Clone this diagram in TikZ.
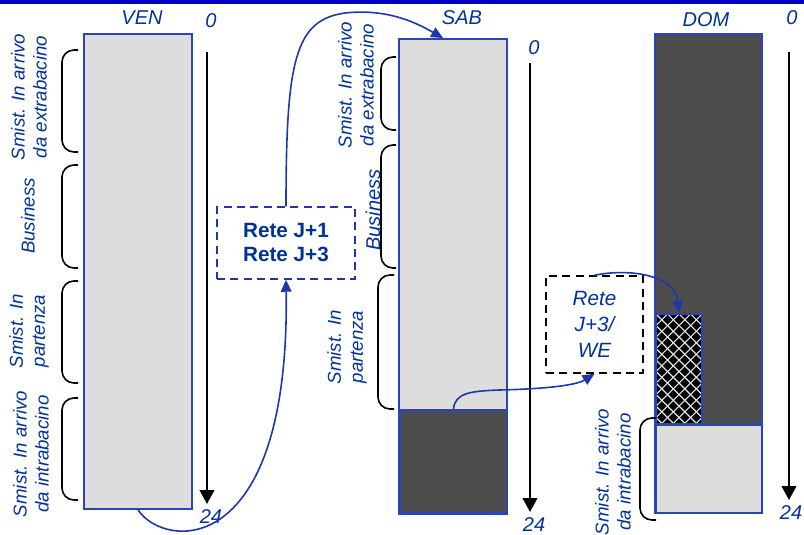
\documentclass[tikz,border=0pt]{standalone}
\usepackage{fontspec}
\setmainfont{Liberation Sans}
\usetikzlibrary{arrows.meta,fit,calc}
\definecolor{txtblue}{RGB}{0,51,153}
\definecolor{barblue}{RGB}{40,70,180}
\definecolor{topblue}{RGB}{0,0,204}
\definecolor{curveblue}{RGB}{30,55,170}
\definecolor{lightfill}{RGB}{221,221,221}
\definecolor{darkfill}{RGB}{77,77,77}
\begin{document}
\begin{tikzpicture}[x=0.75pt,y=-0.75pt,
  bar/.style={inner sep=0pt, draw=barblue, line width=1.4pt},
  lbl/.style={text=txtblue, font=\fontsize{15}{18}\selectfont\itshape, inner sep=0pt},
  side/.style={text=txtblue, font=\fontsize{14}{16.5}\selectfont\itshape, rotate=90, align=center, inner sep=0pt},
  axisline/.style={line width=1.5pt, -{Triangle[width=11pt,length=10.5pt]}},
  brk/.style={draw=black, line width=1.2pt, rounded corners=9pt},
  conn/.style={draw=curveblue, line width=1.2pt, -{Triangle[width=8pt,length=9pt]}},
  dashbox/.style={line width=1.1pt, dash pattern=on 6pt off 4pt, inner sep=0pt, align=center, text=txtblue},
]
\useasboundingbox (0,0) rectangle (804,535);
\fill[topblue] (0,0) rectangle (804,4);

% ---------- VEN ----------
\node[bar, fill=lightfill, fit={(84,34) (192,509)}] (ven) {};
\node[lbl] (venlbl) at (142,18) {VEN};
\node[lbl] (v0) at (211,21) {0};
\node[lbl] (v24) at (211,517) {24};
\coordinate (vtop) at (207,52);
\coordinate (vtip) at (207,504);
\draw[axisline] (vtop) -- (vtip);
\draw[brk] (78,50) -- (62,50) -- (62,152) -- (78,152);
\draw[brk] (78,165) -- (62,165) -- (62,268) -- (78,268);
\draw[brk] (78,281) -- (62,281) -- (62,383) -- (78,383);
\draw[brk] (78,398) -- (62,398) -- (62,500) -- (78,500);
\node[side] (vs1) at (29,97) {Smist. In arrivo\\da extrabacino};
\node[side] (vs2) at (28,216) {Business};
\node[side] (vs3) at (29,331) {Smist. In\\partenza};
\node[side] (vs4) at (31,454) {Smist. In arrivo\\da intrabacino};

% ---------- SAB ----------
\node[bar, fill=lightfill, fit={(399,39) (507,514)}] (sab) {};
\node[bar, fill=darkfill, fit={(400,410) (507,513)}] (sabdark) {};
\node[lbl] (sablbl) at (462,18) {SAB};
\node[lbl] (s0) at (534,48) {0};
\node[lbl] (s24) at (534,525) {24};
\coordinate (stop) at (530,63);
\coordinate (stip) at (530,512);
\draw[axisline] (stop) -- (stip);
\draw[brk] (396,57) -- (381,57) -- (381,130) -- (396,130);
\draw[brk] (396,145) -- (381,145) -- (381,268) -- (396,268);
\draw[brk] (394,275) -- (378,275) -- (378,409) -- (394,409);
\node[side] (ss1) at (356,85) {Smist. In arrivo\\da extrabacino};
\node[side, font=\fontsize{15}{18}\selectfont\itshape] (ss2) at (373,210) {Business};
\node[side] (ss3) at (347,347) {Smist. In\\partenza};

% ---------- DOM ----------
\node[bar, fill=darkfill, fit={(655,34) (762,513)}] (dom) {};
\node[bar, fill=lightfill, fit={(656,425) (762,513)}] (domlight) {};
\begin{scope}
  \clip (656,314) rectangle (702,424);
  \fill[black] (656,314) rectangle (702,424);
  \foreach \c in {541,552.5,...,705} \draw[white!80!gray, line width=0.8pt] (\c,314) -- ++(115,115);
  \foreach \c in {656,667.5,...,820} \draw[white!80!gray, line width=0.8pt] (\c,314) -- ++(-115,115);
\end{scope}
\node[bar, fit={(656,314) (702,424)}] (hatch) {};
\node[lbl] (domlbl) at (706,20) {DOM};
\node[lbl] (d0) at (792,18) {0};
\node[lbl] (d24) at (791,513) {24};
\coordinate (dtop) at (789,52);
\coordinate (dtip) at (789,500);
\draw[axisline] (dtop) -- (dtip);
\draw[brk] (656,418) -- (640,418) -- (640,520) -- (656,520);
\node[side] (ds1) at (613,472) {Smist. In arrivo\\da intrabacino};

% ---------- Rete boxes ----------
\node[dashbox, draw=curveblue, minimum width=103.5pt, minimum height=54pt,
      font=\fontsize{15.5}{18}\selectfont\bfseries] (box1) at (286,243) {Rete J+1\\Rete J+3};
\node[dashbox, draw=black, minimum width=72.75pt, minimum height=72.75pt,
      font=\fontsize{15.5}{19.5}\selectfont\itshape] (box2) at (594.5,324.5) {Rete\\J+3/\\WE};

% ---------- connectors ----------
\coordinate (sabin) at ($(sab.north west)!0.41!(sab.north east)$);
\draw[conn] (ven.south) .. controls (165,550) and (290,560) .. (box1.south);
\draw[conn] (box1.north) .. controls (286,60) and (295,20) .. (345,13)
            .. controls (390,8) and (420,25) .. (sabin);
\draw[conn] (sabdark.north) .. controls (455,393) and (470,391) .. (500,390)
            .. controls (540,389) and (575,386) .. (box2.south);
\draw[conn] (box2.north) .. controls (630,268) and (675,275) .. (hatch.north);
\end{tikzpicture}
\end{document}
